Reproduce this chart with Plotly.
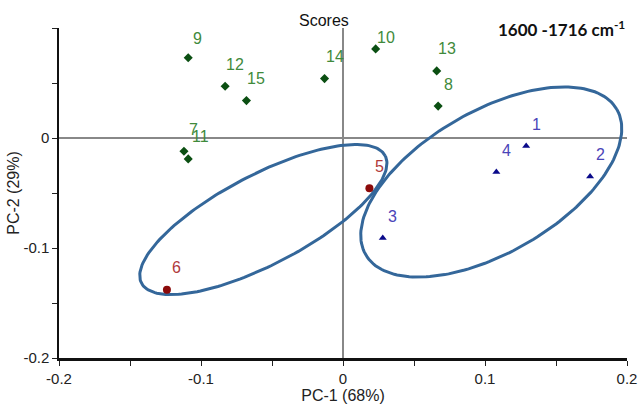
import numpy as np
import plotly.graph_objects as go

# ---- data ----
green_labels = ["9", "12", "15", "14", "10", "13", "8", "7", "11"]
green_x = [-0.109, -0.083, -0.068, -0.013, 0.023, 0.066, 0.067, -0.112, -0.109]
green_y = [0.073, 0.047, 0.034, 0.054, 0.081, 0.061, 0.029, -0.012, -0.019]

red_labels = ["5", "6"]
red_x = [0.0186, -0.124]
red_y = [-0.0457, -0.138]

blue_labels = ["1", "4", "2", "3"]
blue_x = [0.129, 0.108, 0.174, 0.028]
blue_y = [-0.0073, -0.031, -0.035, -0.091]

x_ticks = [-0.2, -0.1, 0, 0.1, 0.2]
x_tick_text = ["-0.2", "-0.1", "0", "0.1", "0.2"]
y_ticks = [-0.2, -0.1, 0]
y_tick_text = ["-0.2", "-0.1", "0"]

# ellipses: center, major-axis vector, minor-axis vector (data units)
ell_blue_center = [0.1044, -0.0400]
ell_blue_major = [0.08845, 0.06606]
ell_blue_minor = [-0.0250, 0.05579]
ell_red_center = [-0.0561, -0.0741]
ell_red_major = [0.08581, 0.05791]
ell_red_minor = [-0.01462, 0.03609]

# label offsets in px (default +10, +22)
label_shift = {"9": (9, 19), "10": (10, 11), "11": (12, 22)}

FONT = "Liberation Sans Narrow, Arial Narrow, Liberation Sans, Arial, sans-serif"

fig = go.Figure()

t = np.linspace(0, 2 * np.pi, 200)
for c, M, m in [(ell_blue_center, ell_blue_major, ell_blue_minor),
                (ell_red_center, ell_red_major, ell_red_minor)]:
    ex = c[0] + M[0] * np.cos(t) + m[0] * np.sin(t)
    ey = c[1] + M[1] * np.cos(t) + m[1] * np.sin(t)
    fig.add_trace(go.Scatter(x=ex, y=ey, mode="lines",
                             line=dict(color="#34679a", width=3),
                             hoverinfo="skip", showlegend=False))

groups = [
    (green_x, green_y, green_labels, "diamond", 7, "#0b4f12", "#3f8a3c"),
    (red_x, red_y, red_labels, "circle", 8, "#8b0a0a", "#b03a3a"),
    (blue_x, blue_y, blue_labels, "triangle-up", 7, "#0a0a8a", "#4a44b8"),
]
annotations = []
for xs, ys, labs, sym, sz, mc, tc in groups:
    fig.add_trace(go.Scatter(x=xs, y=ys, mode="markers",
                             marker=dict(symbol=sym, size=sz, color=mc),
                             showlegend=False))
    for x, y, lab in zip(xs, ys, labs):
        dx, dy = label_shift.get(lab, (10, 22))
        annotations.append(dict(x=x, y=y, xref="x", yref="y", text=lab,
                                showarrow=False, xshift=dx, yshift=dy,
                                font=dict(family=FONT, size=16, color=tc)))

annotations.append(dict(x=0.466, y=1.024, xref="paper", yref="paper",
                        xanchor="center", yanchor="middle",
                        text="Scores", showarrow=False,
                        font=dict(family=FONT, size=16, color="#111")))
annotations.append(dict(x=0.885, y=1.0, xref="paper", yref="paper",
                        xanchor="center", yanchor="middle",
                        text="<b>1600 -1716 cm<sup>-1</sup></b>", showarrow=False,
                        font=dict(family="Lato, Open Sans, sans-serif", size=17, color="#111")))

fig.update_layout(
    width=639, height=405,
    margin=dict(l=59, r=12, t=28, b=47),
    paper_bgcolor="white", plot_bgcolor="white",
    font=dict(family=FONT, size=15, color="#222"),
    annotations=annotations,
    showlegend=False,
)
fig.update_xaxes(range=[-0.2, 0.2], tickvals=x_ticks, ticktext=x_tick_text,
                 automargin=False,
                 ticks="outside", ticklen=5, tickcolor="#222",
                 minor=dict(ticks="outside", dtick=0.05, ticklen=5, tickcolor="#222"),
                 showgrid=False, zeroline=True, zerolinecolor="#888", zerolinewidth=1.5,
                 showline=True, linecolor="#111", linewidth=2.5,
                 title=dict(text="PC-1 (68%)", standoff=5, font=dict(size=16)))
fig.update_yaxes(range=[-0.2, 0.1], tickvals=y_ticks, ticktext=y_tick_text,
                 automargin=False,
                 ticks="outside", ticklen=5, tickcolor="#222",
                 minor=dict(ticks="outside", dtick=0.05, ticklen=5, tickcolor="#222"),
                 showgrid=False, zeroline=True, zerolinecolor="#888", zerolinewidth=1.5,
                 showline=True, linecolor="#111", linewidth=1.5,
                 title=dict(text="PC-2 (29%)", standoff=0, font=dict(size=16)))

# remove the default 8px page margin so the figure fills the window exactly
fig.write_html("out.html", config={"displayModeBar": False},
               post_script="document.body.style.margin='0';document.body.style.overflow='hidden';")
